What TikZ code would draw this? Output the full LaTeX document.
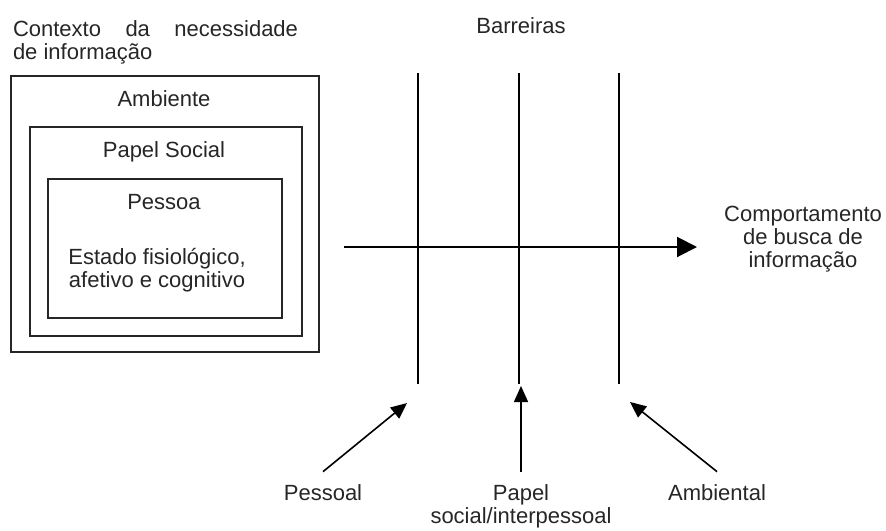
\documentclass[tikz,border=0pt]{standalone}
\usepackage{fontspec}
\setmainfont{Liberation Sans}
\usetikzlibrary{arrows.meta}
\tikzset{
  txt/.style={font=\fontsize{11}{11.5}\selectfont, text=black!85, inner sep=0pt},
  lab/.style={txt, inner ysep=6pt},
  frame/.style={draw=black!85, line width=0.7pt},
  barreira/.style={line width=1.3pt},
  fluxo/.style={line width=1pt, -{Triangle[length=10pt,width=10pt]}},
  fator/.style={line width=0.8pt, -{Triangle[length=8pt,width=7pt]}},
}
\begin{document}
\begin{tikzpicture}[x=0.5pt,y=-0.5pt]
\useasboundingbox (0,0) rectangle (886,530);
% contexto
\node[txt,align=left] (ctx) at (155.5,42) {\makebox[142.5pt][s]{Contexto da necessidade}\\de informação};
\draw[frame] (11,76) rectangle (319,352);
\draw[frame] (30,127) rectangle (302,336);
\draw[frame] (48,179) rectangle (282,318);
\node[txt,anchor=base] (amb) at (164,106) {Ambiente};
\node[txt,anchor=base] (pap) at (164,157) {Papel Social};
\node[txt,anchor=base] (pes) at (164,209) {Pessoa};
\node[txt,align=center] (est) at (157,270) {Estado fisiológico,\\afetivo e cognitivo};
% barreiras
\node[txt,anchor=base] (bar) at (521,33) {Barreiras};
\foreach \x/\n in {418/b1,519/b2,619/b3}
  \draw[barreira] (\x,73) coordinate (\n-t) -- (\x,384) coordinate (\n-b);
% fluxo
\coordinate (ini) at (344,247);
\coordinate (fim) at (697,247);
\draw[fluxo] (ini) -- (fim);
\node[txt,align=center] (cbi) at (803,239) {Comportamento\\de busca de\\informação};
% fatores
\node[lab,anchor=base] (lpes) at (323,500) {Pessoal};
\node[lab,align=center] (lsoc) at (521,506) {Papel\\social/interpessoal};
\node[lab,anchor=base] (lamb) at (717,500) {Ambiental};
\coordinate (p1) at (407,403);
\coordinate (p2) at (521,386);
\coordinate (p3) at (630,402);
\draw[fator] (lpes.north) -- (p1);
\draw[fator] (lsoc.north) -- (p2);
\draw[fator] (lamb.north) -- (p3);
\end{tikzpicture}
\end{document}
